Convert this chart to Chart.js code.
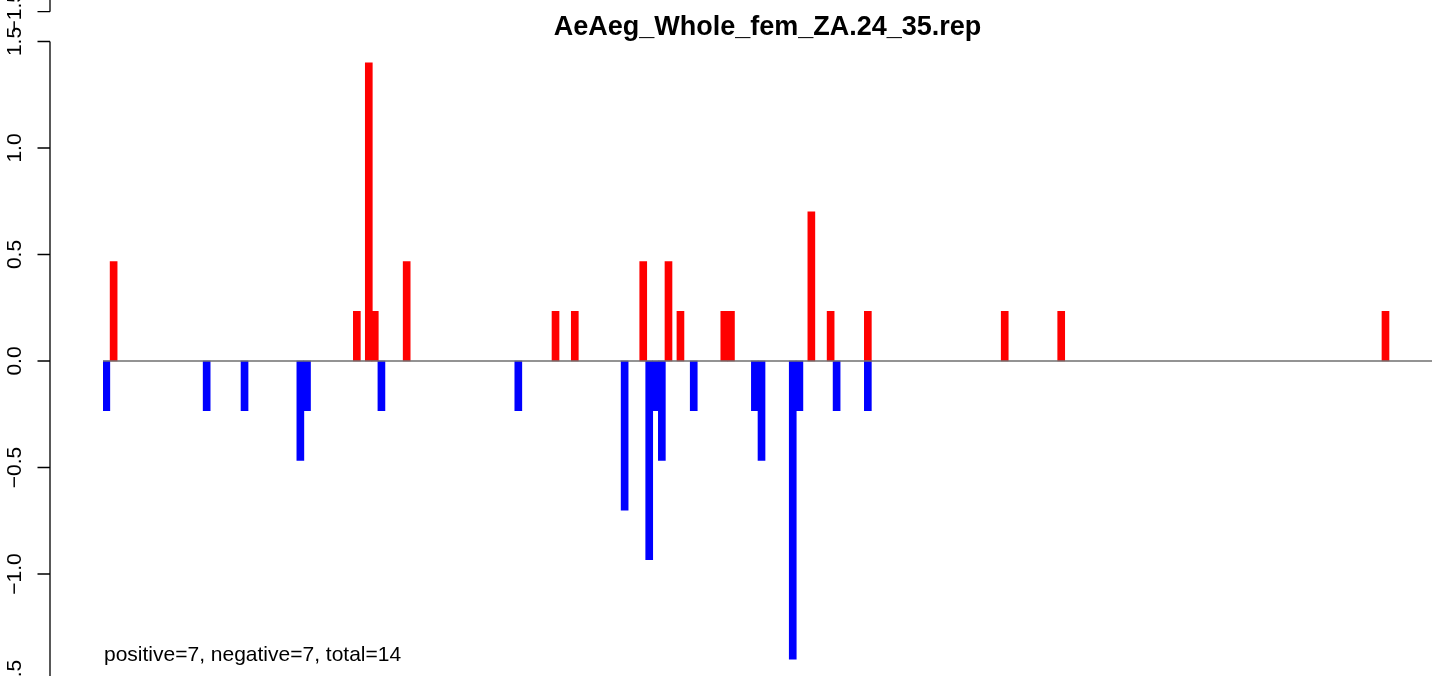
<!DOCTYPE html>
<html>
<head>
<meta charset="utf-8">
<title>AeAeg_Whole_fem_ZA.24_35.rep</title>
<script src="https://cdn.jsdelivr.net/npm/chart.js@4/dist/chart.umd.min.js"></script>
<style>
  html, body { margin: 0; padding: 0; background: #fff; }
  #wrap { width: 1444px; height: 676px; }
</style>
</head>
<body>
<div id="wrap"><canvas id="repChart"></canvas></div>
<script>
// site positions along the sequence (0..200) and the score at each site
const positivePos = [1.6, 38.2, 40.0, 40.9, 45.7, 68.1, 71.0, 81.3, 85.1, 86.9,
                     93.5, 94.5, 106.6, 109.5, 115.1, 135.7, 144.2, 193.0];
const positiveVal = [0.467, 0.233, 1.4, 0.233, 0.467, 0.233, 0.233, 0.467, 0.467, 0.233,
                     0.233, 0.233, 0.7, 0.233, 0.233, 0.233, 0.233, 0.233];

const negativePos = [0.5, 15.6, 21.3, 29.7, 30.7, 41.9, 62.5, 78.5, 82.2, 83.2,
                     84.1, 88.9, 98.1, 99.1, 103.8, 104.8, 110.4, 115.1];
const negativeVal = [-0.233, -0.233, -0.233, -0.467, -0.233, -0.233, -0.233, -0.7, -0.933, -0.233,
                     -0.467, -0.233, -0.233, -0.467, -1.4, -0.233, -0.233, -0.233];

const yTicks = [-1.5, -1.0, -0.5, 0.0, 0.5, 1.0, 1.5];
const yTickLabels = ['\u22121.5', '\u22121.0', '\u22120.5', '0.0', '0.5', '1.0', '1.5'];

// the plot is cut off at the bottom edge just above -1.5
const yMin = -1.479;
const yMax = 1.5;

// bottom tick of the panel above, which shows at the top edge
const abovePanelTick = 1.64;
const abovePanelLabel = '\u22121.5';

const titleText = 'AeAeg_Whole_fem_ZA.24_35.rep';
const countsText = 'positive=7, negative=7, total=14';

const FONT = '"Liberation Sans", Arial, Helvetica, sans-serif';

function toPoints(xs, ys) {
    return xs.map((x, i) => ({ x: x, y: ys[i] }));
}

// R-style left axis, zero line and the counts note
const rAxisPlugin = {
    id: 'rAxis',
    afterDatasetsDraw(chart) {
        const ctx = chart.ctx;
        const area = chart.chartArea;
        const y = chart.scales.y;
        const axisX = area.left - 53;

        ctx.save();
        // zero line
        const y0 = y.getPixelForValue(0);
        ctx.strokeStyle = '#6f6f6f';
        ctx.lineWidth = 1.3;
        ctx.beginPath();
        ctx.moveTo(area.left, y0);
        ctx.lineTo(area.right, y0);
        ctx.stroke();

        // axis line and ticks
        ctx.strokeStyle = '#000';
        ctx.lineWidth = 1.3;
        ctx.beginPath();
        ctx.moveTo(axisX, y.getPixelForValue(yTicks[yTicks.length - 1]));
        ctx.lineTo(axisX, y.getPixelForValue(yTicks[0]));
        ctx.moveTo(axisX, 0);
        ctx.lineTo(axisX, y.getPixelForValue(abovePanelTick));
        const allTicks = yTicks.concat([abovePanelTick]);
        allTicks.forEach(v => {
            const py = y.getPixelForValue(v);
            ctx.moveTo(axisX, py);
            ctx.lineTo(axisX - 12.5, py);
        });
        ctx.stroke();

        // rotated tick labels
        ctx.fillStyle = '#000';
        ctx.font = '21px ' + FONT;
        ctx.textAlign = 'center';
        ctx.textBaseline = 'alphabetic';
        const labels = yTickLabels.concat([abovePanelLabel]);
        allTicks.forEach((v, i) => {
            ctx.save();
            ctx.translate(axisX - 29, y.getPixelForValue(v));
            ctx.rotate(-Math.PI / 2);
            ctx.fillText(labels[i], 0, 0);
            ctx.restore();
        });

        // counts note
        ctx.textAlign = 'left';
        ctx.font = '21px ' + FONT;
        ctx.fillText(countsText, area.left + 1, 661);
        ctx.restore();
    }
};

document.addEventListener('DOMContentLoaded', () => {
    new Chart(document.getElementById('repChart'), {
        type: 'bar',
        data: {
            datasets: [{
                label: 'positive',
                data: toPoints(positivePos, positiveVal),
                backgroundColor: '#ff0000'
            }, {
                label: 'negative',
                data: toPoints(negativePos, negativeVal),
                backgroundColor: '#0000ff'
            }]
        },
        options: {
            responsive: true,
            maintainAspectRatio: false,
            animation: false,
            datasets: {
                bar: {
                    grouped: false,
                    barThickness: 7,
                    borderWidth: 0
                }
            },
            layout: {
                padding: { left: 103, right: 12, top: 0, bottom: 0 }
            },
            plugins: {
                legend: { display: false },
                tooltip: { enabled: false },
                title: {
                    display: true,
                    text: titleText,
                    color: '#000',
                    font: { family: FONT, size: 27, weight: 'bold', lineHeight: 1 },
                    padding: { top: 14.5, bottom: 0 }
                }
            },
            scales: {
                x: {
                    type: 'linear',
                    min: 0,
                    max: 200,
                    offset: false,
                    display: false
                },
                y: {
                    min: yMin,
                    max: yMax,
                    display: false
                }
            }
        },
        plugins: [rAxisPlugin]
    });
});
</script>
</body>
</html>
